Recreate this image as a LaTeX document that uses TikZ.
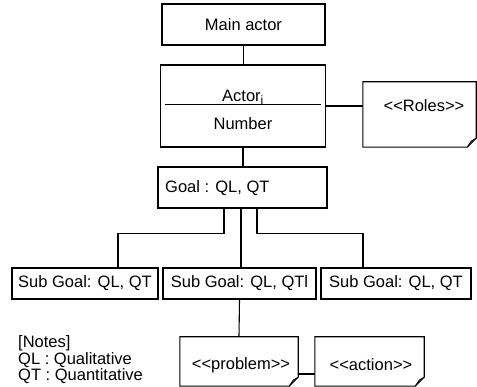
\documentclass[tikz,border=0pt]{standalone}
\usepackage{fontspec}
\setmainfont{Liberation Sans}
\newcommand\lsh{<\kern0pt<\kern0pt}
\newcommand\rsh{>\kern0pt>}
\begin{document}
\begin{tikzpicture}[x=1pt,y=-1pt,
  every node/.style={font=\fontsize{16.5}{16.5}\selectfont},
  box/.style={draw, line width=1.1pt, rectangle, inner sep=0pt},
  blank/.style={rectangle, inner sep=0pt},
  link/.style={line width=1.1pt},
  txt/.style={inner sep=0pt}]
\useasboundingbox (0,0) rectangle (477,387);
% main actor
\node[box, minimum width=163pt, minimum height=41pt] (main) at (243.5,24.5) {Main actor};
% actor
\node[box, minimum width=165pt, minimum height=82pt] (actor) at (243,106) {};
\node[txt] (actori) at (243,97) {Actor\textsubscript{\fontsize{12}{12}\selectfont i}};
\node[txt] (number) at (243,124) {Number};
\draw[line width=1pt] ([xshift=5pt,yshift=1pt]actor.west) -- ([xshift=-5pt,yshift=1pt]actor.east);
% roles note
\node[blank, minimum width=113pt, minimum height=65pt] (roles) at (419.5,114.5) {};
\node[txt] (rolestxt) at (424,106) {\lsh Roles\rsh};
% goal
\node[box, minimum width=169pt, minimum height=41pt] (goal) at (242.5,187.5) {};
\node[txt, anchor=west] (goaltxt) at (165,188.5) {Goal : QL, QT};
% sub goals
\node[box, minimum width=146pt, minimum height=31pt] (sg1) at (85,283.5) {Sub Goal: QL, QT};
\node[box, minimum width=153pt, minimum height=31pt] (sg2) at (239.5,283.5) {Sub Goal: QL, QTl};
\node[box, minimum width=150pt, minimum height=31pt] (sg3) at (396,283.5) {Sub Goal: QL, QT};
% problem / action notes
\node[blank, minimum width=118pt, minimum height=49pt] (problem) at (239,361.5) {};
\node[txt] (problemtxt) at (241,365) {\lsh problem\rsh};
\node[blank, minimum width=109pt, minimum height=49pt] (action) at (369.5,361.5) {};
\node[txt] (actiontxt) at (371,365) {\lsh action\rsh};
% notes
\node[txt, anchor=west, align=left, font=\fontsize{16.5}{16.5}\selectfont] (notes) at (18,360) {[Notes]\\QL : Qualitative\\QT : Quantitative};
% note outlines
\foreach \n in {roles,problem,action}{
  \draw[link, line join=miter] (\n.north west) -- (\n.north east) -- ([yshift=9pt]\n.south east)
     -- ([xshift=-9pt]\n.south east) -- (\n.south west) -- cycle;
  \draw[line width=0.9pt] ([xshift=-9pt]\n.south east) -- ([xshift=-5pt,yshift=6pt]\n.south east) -- ([yshift=9pt]\n.south east);
}
% connectors
\draw[link] (main.south) -- ([xshift=0.5pt]actor.north);
\draw[link] (actor.east) -- ([yshift=8.5pt]roles.west);
\draw[link] (actor.south) -- ([xshift=0.5pt]goal.north);
\draw[link] ([xshift=-18.5pt]goal.south) -- ++(0,25) -| ([xshift=33pt]sg1.north);
\draw[link] ([xshift=14.5pt]goal.south) -- ++(0,25) -| ([xshift=-33pt]sg3.north);
\draw[link] ([xshift=-1.5pt]goal.south) -- ([xshift=1.5pt]sg2.north);
\draw[link] (sg2.south) -- (problem.north);
\draw[link] ([yshift=-12.5pt]problem.east) -- ([yshift=-12.5pt]action.west);
\end{tikzpicture}
\end{document}
